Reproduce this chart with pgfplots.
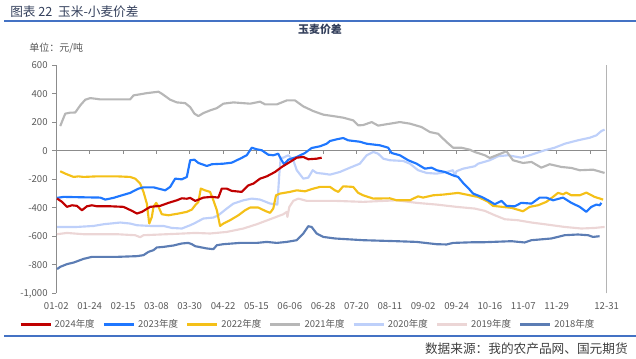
\documentclass[border=0pt]{standalone}
\usepackage{fontspec}
\setmainfont{Noto Sans CJK SC}
\usepackage{pgfplots}
\pgfplotsset{compat=1.18}
\definecolor{c2024}{RGB}{192,0,0}
\definecolor{c2023}{RGB}{31,119,255}
\definecolor{c2022}{RGB}{244,192,24}
\definecolor{c2021}{RGB}{183,183,183}
\definecolor{c2020}{RGB}{190,208,250}
\definecolor{c2019}{RGB}{236,214,214}
\definecolor{c2018}{RGB}{92,125,180}
\definecolor{titlec}{RGB}{52,64,92}
\definecolor{rulec}{RGB}{68,114,196}
\definecolor{axc}{RGB}{140,140,140}
\definecolor{txtc}{RGB}{89,89,89}
\begin{document}
\begin{tikzpicture}[x=0.75pt,y=0.75pt]
\path[use as bounding box] (0,0) rectangle (636,359);
\node[anchor=west, text=titlec, font=\fontsize{9.5pt}{11pt}\selectfont, inner sep=0pt] at (10,347) {图表 22\ \ 玉米-小麦价差};
\draw[rulec, line width=1.5pt] (4,338.3) -- (636,338.3);
\node[text=titlec, font=\fontsize{8.2pt}{10pt}\selectfont\bfseries, inner sep=0pt] at (320,330) {玉麦价差};
\node[anchor=west, text=txtc, font=\fontsize{7.5pt}{9pt}\selectfont, inner sep=0pt] at (29,311) {单位：元/吨};
\begin{axis}[
  at={(42.225pt,49.125pt)}, anchor=south west,
  scale only axis, width=412.8pt, height=171pt,
  xmin=0, xmax=363, ymin=-1000, ymax=600,
  axis x line*=bottom, axis y line*=left,
  x axis line style={draw=none},
  y axis line style={axc, line width=0.75pt},
  xtick={0,22,44,66,88,110,132,154,176,198,220,242,264,286,308,330,363},
  xticklabels={01-02,01-24,02-15,03-08,03-30,04-22,05-15,06-06,06-28,07-20,08-11,09-02,09-24,10-16,11-07,11-29,12-31},
  xtick style={draw=none},
  ytick={-1000,-800,-600,-400,-200,0,200,400,600},
  yticklabels={{-1,000},-800,-600,-400,-200,0,200,400,600},
  ytick style={axc, line width=0.75pt},
  tick align=outside, major tick length=3pt,
  ticklabel style={font=\fontsize{7.2pt}{8pt}\selectfont, text=txtc},
  every axis plot/.append style={line width=1.6pt, line join=round, mark=none},
  legend style={at={(axis description cs:-0.068,-0.138)}, anchor=west, draw=none, fill=none, inner sep=0pt,
    legend columns=7, font=\fontsize{7.1pt}{8pt}\selectfont, text=txtc,
    /tikz/every even column/.append style={column sep=3.8pt}},
  legend image code/.code={\draw[#1, line width=2.2pt] (0pt,0pt) -- (22.5pt,0pt);},
]
\addlegendimage{c2024}
\addlegendimage{c2023}
\addlegendimage{c2022}
\addlegendimage{c2021}
\addlegendimage{c2020}
\addlegendimage{c2019}
\addlegendimage{c2018}
\legend{2024年度,2023年度,2022年度,2021年度,2020年度,2019年度,2018年度}
\draw[axc, line width=0.75pt] (axis cs:0,0) -- (axis cs:363,0);
\draw[axc, line width=0.75pt] (axis cs:363,-1000) -- (axis cs:363,600);
\pgfplotsinvokeforeach{22,44,66,88,110,132,154,176,198,220,242,264,286,308,330,352}{
  \draw[axc, line width=0.75pt] (axis cs:#1,0) -- ++(0pt,-2.5pt);
}
% 2018
\addplot[c2018, forget plot] coordinates {(0.5,-829)(2.6,-813)(7.0,-794)(11.4,-783)(18.0,-757)(23.5,-743)(40.0,-743)(53.2,-738)(57.5,-731)(60.8,-708)(64.1,-696)(66.3,-677)(70.7,-673)(77.3,-663)(82.8,-649)(87.1,-645)(89.4,-654)(91.6,-668)(99.3,-684)(103.6,-689)(105.9,-661)(110.2,-654)(121.2,-645)(132.2,-645)(138.8,-638)(145.4,-645)(152.0,-638)(158.6,-626)(162.9,-579)(166.2,-528)(168.4,-533)(171.7,-579)(176.1,-603)(183.8,-614)(202.4,-626)(224.4,-633)(237.6,-638)(250.8,-654)(257.4,-656)(261.7,-645)(276.0,-640)(282.6,-640)(300.2,-633)(308.9,-642)(313.4,-626)(326.5,-614)(335.3,-591)(344.0,-586)(350.7,-591)(354.0,-603)(358.3,-598)};
% 2019
\addplot[c2019, forget plot] coordinates {(0.5,-584)(7.0,-575)(18.0,-584)(40.0,-584)(52.0,-591)(55.3,-605)(57.5,-591)(72.9,-584)(83.9,-579)(91.6,-575)(101.4,-579)(112.4,-568)(123.4,-544)(132.2,-514)(141.0,-479)(149.7,-444)(152.0,-427)(152.4,-463)(153.7,-392)(156.3,-350)(159.6,-334)(165.1,-350)(176.1,-350)(183.8,-350)(202.4,-357)(224.4,-346)(237.6,-364)(250.8,-376)(263.9,-392)(276.0,-404)(282.6,-420)(289.2,-451)(295.8,-479)(304.5,-486)(313.4,-502)(322.1,-514)(335.3,-533)(346.3,-544)(355.0,-540)(361.6,-533)};
% 2020
\addplot[c2020, forget plot] coordinates {(0.5,-533)(13.6,-533)(24.6,-526)(31.2,-514)(42.2,-502)(48.7,-509)(53.2,-521)(61.9,-526)(70.7,-526)(76.2,-540)(82.8,-544)(88.3,-521)(91.6,-505)(92.7,-498)(97.0,-474)(103.6,-467)(106.9,-451)(112.4,-404)(116.8,-369)(123.4,-346)(128.9,-334)(134.4,-341)(141.0,-369)(145.8,-376)(147.1,-159)(148.0,-47)(149.7,-47)(153.0,-30)(156.3,-65)(158.6,-135)(162.9,-194)(166.2,-187)(169.1,-135)(171.7,-154)(176.1,-159)(180.5,-166)(187.1,-147)(193.7,-117)(200.2,-89)(204.7,-30)(209.0,-7)(212.3,-19)(215.6,-54)(220.0,-65)(228.8,-70)(233.2,-89)(238.6,-135)(244.2,-154)(250.8,-159)(257.4,-147)(261.7,-135)(262.8,-178)(263.9,-142)(268.3,-124)(276.0,-107)(278.2,-89)(285.9,-65)(291.3,-37)(297.9,-30)(306.7,-47)(313.4,-26)(322.1,5)(328.7,23)(335.3,51)(344.0,75)(351.8,93)(356.2,110)(359.5,140)(361.6,150)};
% 2021
\addplot[c2021, forget plot] coordinates {(2.6,175)(5.9,262)(9.2,269)(12.5,270)(15.8,320)(19.1,360)(22.4,371)(25.7,367)(29.0,362)(40.0,362)(48.7,362)(50.9,390)(59.7,406)(67.4,416)(69.6,402)(75.1,360)(79.5,341)(85.0,336)(88.3,308)(91.1,262)(93.7,245)(97.0,266)(101.4,285)(105.9,301)(110.2,332)(116.8,341)(127.8,332)(134.4,346)(137.7,327)(145.4,327)(152.0,355)(157.4,355)(162.9,313)(169.5,280)(176.1,255)(183.8,243)(189.2,234)(195.8,215)(199.1,180)(202.4,182)(208.0,203)(212.3,178)(215.6,184)(226.6,203)(233.2,192)(240.9,168)(246.4,133)(251.8,121)(257.4,63)(261.7,23)(267.2,23)(272.7,9)(276.0,-7)(282.6,-30)(285.9,-49)(291.3,-26)(296.9,-2)(301.2,-65)(307.8,-84)(313.4,-77)(319.9,-117)(325.4,-93)(333.1,-112)(339.7,-119)(345.2,-135)(354.0,-131)(361.6,-154)};
% 2022
\addplot[c2022, forget plot] coordinates {(2.6,-142)(5.9,-159)(11.4,-182)(14.7,-178)(18.0,-182)(26.8,-178)(40.0,-178)(48.7,-182)(52.0,-194)(55.3,-229)(57.5,-287)(59.7,-369)(61.3,-509)(63.0,-463)(64.1,-392)(65.9,-364)(67.4,-392)(69.6,-444)(74.0,-451)(80.6,-439)(86.1,-427)(89.4,-411)(91.6,-381)(93.7,-357)(95.3,-264)(98.1,-276)(101.4,-287)(103.6,-346)(105.9,-416)(108.0,-526)(110.2,-509)(114.6,-486)(120.1,-451)(124.5,-416)(127.8,-397)(133.3,-397)(137.7,-420)(141.0,-434)(143.1,-404)(144.9,-311)(147.5,-299)(154.1,-287)(158.6,-276)(164.0,-283)(169.5,-264)(173.9,-252)(180.5,-252)(183.8,-276)(186.0,-287)(189.2,-248)(195.8,-252)(199.1,-294)(202.4,-311)(209.0,-334)(220.0,-332)(224.4,-346)(233.2,-346)(238.6,-318)(241.9,-327)(248.5,-311)(255.1,-306)(265.0,-294)(270.5,-306)(276.0,-318)(278.2,-322)(284.8,-357)(288.0,-385)(300.2,-399)(307.8,-423)(312.2,-392)(317.7,-381)(323.2,-357)(327.6,-322)(330.9,-294)(334.2,-304)(336.4,-292)(339.7,-311)(345.2,-311)(349.6,-292)(355.0,-322)(360.6,-341)};
% 2023
\addplot[c2023, forget plot] coordinates {(0.5,-329)(4.8,-322)(18.0,-325)(29.0,-327)(32.3,-341)(37.7,-329)(43.3,-311)(48.7,-294)(54.2,-264)(57.5,-255)(64.1,-255)(67.4,-264)(71.8,-276)(75.1,-252)(78.4,-194)(82.8,-199)(86.1,-182)(88.3,-65)(91.1,-61)(93.7,-84)(99.3,-105)(102.6,-93)(110.2,-89)(115.7,-82)(121.2,-54)(125.6,-30)(128.9,23)(132.2,12)(135.5,5)(139.8,-26)(143.1,-30)(146.4,-19)(148.0,-54)(150.2,-93)(153.0,-61)(158.6,-42)(164.0,-14)(168.4,21)(173.9,33)(178.3,51)(180.5,70)(184.9,82)(189.2,91)(192.5,75)(200.2,65)(204.7,51)(213.4,40)(218.9,23)(221.1,-14)(226.6,-30)(232.1,-65)(237.6,-89)(243.1,-124)(247.5,-117)(250.8,-135)(256.2,-147)(261.7,-171)(265.0,-182)(268.3,-224)(271.6,-259)(274.9,-299)(280.4,-322)(284.8,-346)(289.2,-374)(293.6,-350)(296.9,-385)(302.3,-388)(306.7,-364)(313.4,-369)(318.8,-327)(323.2,-327)(327.6,-346)(334.2,-327)(339.7,-364)(345.2,-392)(349.6,-427)(352.9,-392)(356.2,-376)(358.3,-381)(359.5,-364)};
% 2024
\addplot[c2024, forget plot] coordinates {(0.5,-334)(3.8,-357)(7.0,-392)(10.3,-381)(13.6,-385)(16.9,-416)(20.2,-388)(23.5,-381)(26.8,-388)(35.6,-388)(44.3,-392)(49.9,-420)(53.2,-439)(56.5,-427)(61.9,-392)(68.5,-385)(74.0,-364)(79.5,-346)(82.8,-332)(86.1,-335)(88.3,-329)(91.6,-350)(92.7,-346)(97.0,-327)(102.6,-322)(106.9,-327)(109.1,-264)(112.4,-264)(115.7,-280)(122.3,-287)(126.7,-241)(130.0,-229)(134.4,-194)(138.8,-178)(144.3,-147)(148.7,-112)(154.1,-77)(158.6,-47)(162.9,-42)(166.2,-58)(171.7,-54)(175.0,-47)};
\end{axis}
\draw[rulec, line width=1.5pt] (4,23) -- (636,23);
\node[anchor=east, text=black!75, font=\fontsize{9.5pt}{11pt}\selectfont, inner sep=0pt] at (628,10) {数据来源：我的农产品网、国元期货};
\end{tikzpicture}
\end{document}
